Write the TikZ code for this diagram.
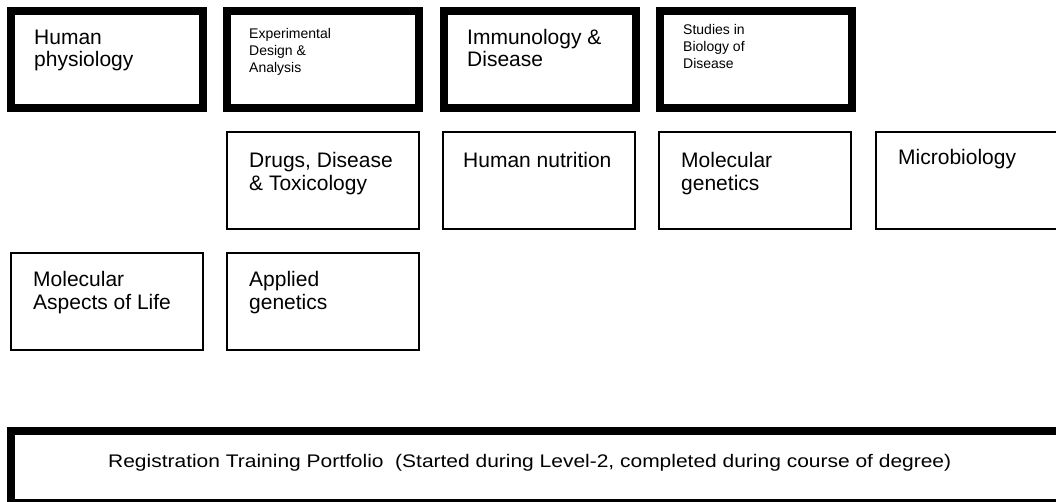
\documentclass[tikz,border=0pt]{standalone}
\usepackage{fontspec}
\setmainfont{Liberation Sans}
\usepackage{graphicx}
\tikzset{
  thickbox/.style={draw=black, line width=8pt, rectangle, outer sep=0pt, inner sep=0pt,
    minimum width=192pt, minimum height=97pt, anchor=north west},
  thinbox/.style={draw=black, line width=2pt, rectangle, outer sep=0pt, inner sep=0pt,
    minimum width=192pt, minimum height=97pt, anchor=north west},
  big/.style={font=\fontsize{21}{23.5}\selectfont, align=left, anchor=north west, inner sep=0pt},
  bigtop/.style={font=\fontsize{21}{22}\selectfont, align=left, anchor=north west, inner sep=0pt},
  small/.style={font=\fontsize{14}{17}\selectfont, align=left, anchor=north west, inner sep=0pt}
}
\begin{document}
\begin{tikzpicture}[x=1pt,y=-1pt]
\useasboundingbox (0,0) rectangle (1056,501);
\clip (0,0) rectangle (1056,501);
% row 1
\node[thickbox] (hp) at (11,11) {};
\node[thickbox] (eda) at (227,11) {};
\node[thickbox] (imm) at (444,11) {};
\node[thickbox] (sbd) at (660,11) {};
\node[bigtop] (thp) at ([shift={(23,19)}]hp.north west) {Human\\physiology};
\node[small] (teda) at ([shift={(22,17)}]eda.north west) {Experimental\\Design \&\\Analysis};
\node[bigtop] (timm) at ([shift={(23,18)}]imm.north west) {Immunology \&\\Disease};
\node[small] (tsbd) at ([shift={(23,13)}]sbd.north west) {Studies in\\Biology of\\Disease};
% row 2
\node[thinbox] (ddt) at (227,132) {};
\node[thinbox] (hn) at (443,132) {};
\node[thinbox] (mg) at (659,132) {};
\node[thinbox, minimum width=250pt] (mic) at (876,132) {};
\node[big] (tddt) at ([shift={(22,20)}]ddt.north west) {Drugs, Disease\\\& Toxicology};
\node[big] (thn) at ([shift={(20,20)}]hn.north west) {Human nutrition};
\node[big] (tmg) at ([shift={(22,20)}]mg.north west) {Molecular\\genetics};
\node[big] (tmic) at ([shift={(22,17)}]mic.north west) {Microbiology};
% row 3
\node[thinbox] (mal) at (11,253) {};
\node[thinbox] (ag) at (227,253) {};
\node[big] (tmal) at ([shift={(22,18)}]mal.north west) {Molecular\\Aspects of Life};
\node[big] (tag) at ([shift={(22,18)}]ag.north west) {Applied\\genetics};
% bottom
\node[draw=black, line width=8pt, rectangle, outer sep=0pt, inner sep=0pt,
  minimum width=1100pt, minimum height=72pt, anchor=north west] (rtp) at (11,431) {};
\node[anchor=base west, inner sep=0pt, font=\fontsize{18}{20}\selectfont] (trtp) at ([shift={(97,36)}]rtp.north west)
  {\resizebox{843pt}{13.2pt}{Registration Training Portfolio\ \ (Started during Level-2, completed during course of degree)}};
\end{tikzpicture}
\end{document}
